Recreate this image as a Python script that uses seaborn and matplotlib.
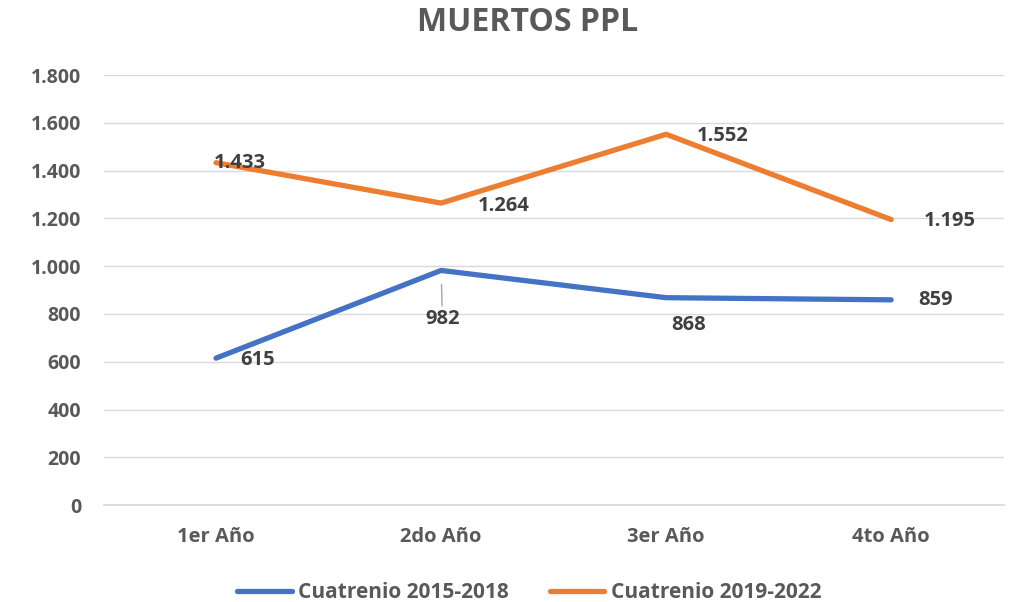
import pandas as pd
import numpy as np
import matplotlib
matplotlib.use("Agg")
import matplotlib.pyplot as plt
from matplotlib.ticker import FuncFormatter
import seaborn as sns

# data
categorias = ["1er Año", "2do Año", "3er Año", "4to Año"]
serie_2015_2018 = [615, 982, 868, 859]
serie_2019_2022 = [1433, 1264, 1552, 1195]
nombres = ["Cuatrenio 2015-2018", "Cuatrenio 2019-2022"]
colores = ["#4472C4", "#ED7D31"]

df = pd.DataFrame({
    "Año": categorias * 2,
    "Muertos": serie_2015_2018 + serie_2019_2022,
    "Serie": [nombres[0]] * 4 + [nombres[1]] * 4,
})

sns.set_theme(style="white")
plt.rcParams["font.family"] = ["Open Sans", "DejaVu Sans"]
gris = "#595959"

fig = plt.figure(figsize=(10.2, 6.02), dpi=100)
ax = fig.add_axes([0.1015, 0.161, 0.8825, 0.7144])

sns.lineplot(data=df, x="Año", y="Muertos", hue="Serie", palette=colores,
             linewidth=3.8, sort=False, ax=ax, legend=True)

ax.set_xlim(-0.5, 3.5)
ax.set_ylim(0, 1800)
ax.set_yticks(range(0, 1801, 200))
ax.yaxis.set_major_formatter(FuncFormatter(lambda v, p: f"{v:,.0f}".replace(",", ".")))
ax.grid(axis="y", color="#d9d9d9", linewidth=1)
ax.set_axisbelow(True)
for s in ["top", "right", "left"]:
    ax.spines[s].set_visible(False)
ax.spines["bottom"].set_color("#d9d9d9")
ax.tick_params(axis="y", length=0, labelsize=14, labelcolor=gris, pad=16)
ax.tick_params(axis="x", length=0, labelsize=14.5, labelcolor=gris, pad=16)
for lab in ax.get_xticklabels() + ax.get_yticklabels():
    lab.set_fontweight("bold")
ax.set_xlabel("")
ax.set_ylabel("")

fig.text(0.517, 0.99, "MUERTOS PPL", ha="center", va="top", fontsize=23,
         fontweight="bold", color=gris)

# data labels (offsets in points, relative to each point)
def fmt(v):
    return f"{v:,.0f}".replace(",", ".")

offs_a = [(30, -1), (1, -35), (16, -20), (32, 0)]
offs_b = [(17, 0), (45, -2), (41, -1), (42, -1)]
for i, (v, o) in enumerate(zip(serie_2015_2018, offs_a)):
    kw = {}
    if i == 1:
        kw = dict(arrowprops=dict(arrowstyle="-", color="#a6a6a6", lw=1,
                                  shrinkA=0, shrinkB=10))
    ax.annotate(fmt(v), (i, v), xytext=o, textcoords="offset points",
                ha="center", va="center", fontsize=14.5, fontweight="bold",
                color="#404040", **kw)
for i, (v, o) in enumerate(zip(serie_2019_2022, offs_b)):
    ax.annotate(fmt(v), (i, v), xytext=o, textcoords="offset points",
                ha="center", va="center", fontsize=14.5, fontweight="bold",
                color="#404040")

leg = ax.legend(loc="upper center", bbox_to_anchor=(0.473, -0.135), ncol=2,
                frameon=False, fontsize=15, handlelength=2.6, handletextpad=0.3,
                columnspacing=2.0)
for t in leg.get_texts():
    t.set_fontweight("bold")
    t.set_color(gris)
for h in leg.get_lines():
    h.set_linewidth(3.8)

fig.savefig("out.png", dpi=100)
